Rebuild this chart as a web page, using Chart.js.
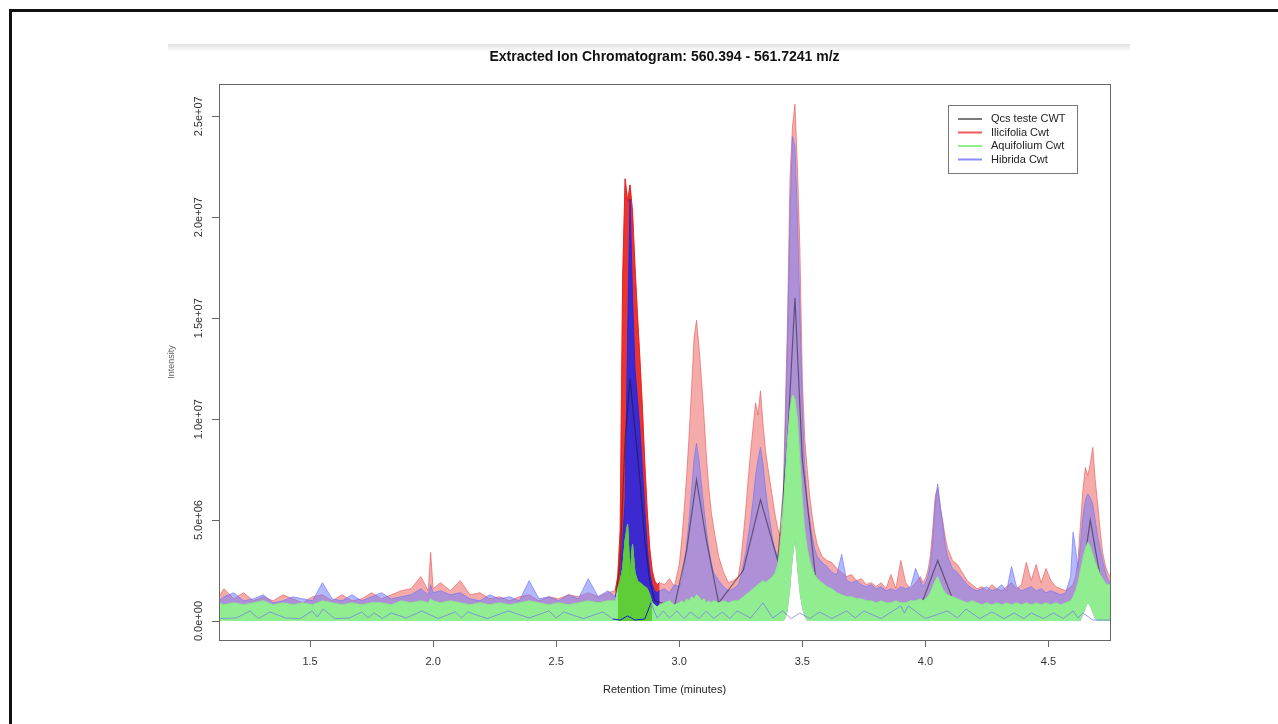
<!DOCTYPE html>
<html>
<head>
<meta charset="utf-8">
<title>Extracted Ion Chromatogram</title>
<script src="https://cdn.jsdelivr.net/npm/chart.js@4.4.1/dist/chart.umd.min.js"></script>
<style>
    body { margin: 0; background: #fff; width: 1278px; height: 724px; overflow: hidden; position: relative; }
    #frame { position: absolute; left: 9px; top: 9px; width: 1400px; height: 800px; border-left: 3px solid #111; border-top: 3px solid #111; }
    #shade { position: absolute; left: 168px; top: 44px; width: 962px; height: 8px; background: linear-gradient(#e2e2e2, #fff); }
    #wrap { position: absolute; left: 0; top: 0; width: 1278px; height: 724px; }
</style>
</head>
<body>
<div id="frame"></div>
<div id="shade"></div>
<div id="wrap"><canvas id="eic-chart" width="1278" height="724"></canvas></div>
<script>
// retention time grid (minutes), shared by the envelope series
const retentionTime = [
    1.13, 1.15, 1.19, 1.23, 1.27, 1.31, 1.35, 1.39, 1.43, 1.47, 1.51, 1.55, 1.59, 1.63, 1.67, 1.71, 1.75, 1.79, 1.83, 1.87,
    1.91, 1.95, 1.98, 1.99, 2.00, 2.03, 2.07, 2.11, 2.15, 2.19, 2.23, 2.27, 2.31, 2.35, 2.39, 2.43, 2.47, 2.51, 2.55, 2.59,
    2.63, 2.67, 2.71,
    2.74, 2.75, 2.76, 2.77, 2.78, 2.79, 2.80, 2.81, 2.82, 2.83, 2.84, 2.85, 2.86, 2.87, 2.88, 2.89, 2.90, 2.91, 2.92,
    2.94, 2.96, 2.98, 3.00,
    3.01, 3.02, 3.03, 3.04, 3.05, 3.06, 3.07, 3.08, 3.09, 3.10, 3.11, 3.12, 3.13, 3.14,
    3.16, 3.18, 3.20, 3.22,
    3.24, 3.25, 3.26, 3.27, 3.28, 3.29, 3.30, 3.31, 3.32, 3.33, 3.34, 3.35, 3.36, 3.37, 3.38, 3.39, 3.40,
    3.41, 3.42, 3.43, 3.44, 3.45, 3.46, 3.47, 3.48, 3.49, 3.50, 3.51, 3.52, 3.53, 3.54, 3.55, 3.56,
    3.58, 3.60, 3.62, 3.64, 3.66, 3.68, 3.70, 3.72, 3.74, 3.76, 3.78, 3.80, 3.82, 3.84, 3.86, 3.88, 3.90, 3.92, 3.94, 3.96, 3.98,
    3.99, 4.00, 4.01, 4.02, 4.03, 4.04, 4.05, 4.06, 4.07, 4.08, 4.09,
    4.11, 4.13, 4.15, 4.17, 4.19, 4.21, 4.23, 4.25, 4.27, 4.29, 4.31, 4.33, 4.35, 4.37, 4.39, 4.41, 4.43, 4.45, 4.47, 4.49,
    4.51, 4.53, 4.55, 4.57, 4.59,
    4.60, 4.61, 4.62, 4.63, 4.64, 4.65, 4.66, 4.67, 4.68, 4.69, 4.70, 4.71, 4.72, 4.73, 4.74, 4.75
];

// upper envelope of all Ilicifolia traces (intensity, x 1e6)
const ilicifoliaMax = [
    1.2, 1.6, 1.1, 1.4, 1.0, 1.2, 1.0, 1.3, 1.1, 0.9, 1.2, 1.3, 1.0, 1.3, 1.0, 1.1, 1.4, 1.1, 1.3, 1.5,
    1.6, 2.2, 1.5, 3.4, 1.6, 1.9, 1.5, 2.0, 1.3, 1.4, 1.1, 1.2, 1.0, 1.2, 1.3, 1.0, 1.2, 1.1, 1.3, 1.2,
    1.4, 1.2, 1.4,
    1.5, 2.2, 4.5, 17.0, 21.9, 20.8, 21.6, 20.3, 17.6, 15.2, 13.0, 10.6, 7.8, 5.4, 3.6, 2.5, 2.0, 1.8, 1.9,
    1.8, 2.1, 1.7, 2.8,
    4.0, 5.5, 7.2, 9.2, 11.5, 14.0, 14.9, 13.6, 12.0, 10.2, 8.2, 6.6, 5.4, 4.6,
    3.2, 2.4, 1.9, 2.0,
    2.2, 3.0, 4.2, 5.5, 7.0, 8.4, 9.6, 10.8, 10.2, 11.4, 9.8, 8.5, 7.6, 6.8, 6.0, 5.2, 4.6,
    4.2, 5.0, 10.0, 15.0, 22.0, 24.5, 25.6, 22.5, 18.5, 12.0, 9.0, 7.5, 6.2, 5.2, 4.4, 3.8,
    3.2, 3.0, 2.9, 2.6, 2.4, 2.2, 2.3, 2.0, 2.1, 1.8, 1.9, 1.7, 1.9, 1.6, 2.3, 1.6, 3.0, 1.9, 1.6, 1.9, 2.2,
    1.9, 2.1, 2.5, 3.2, 4.6, 6.2, 6.6, 5.6, 5.0, 4.2, 3.6,
    3.0, 2.8, 2.4, 2.0, 1.8, 1.6, 1.7, 1.5, 1.8, 1.6, 1.5, 1.7, 1.9, 1.6, 1.8, 2.9, 2.0, 2.8, 1.9, 2.6,
    2.0, 1.7, 1.6, 1.5, 1.7,
    1.8, 2.2, 3.0, 4.8, 6.5, 7.6, 7.2, 7.8, 8.6, 7.0, 5.8, 4.5, 3.4, 2.8, 2.4, 2.2
];

// upper envelope of all Hibrida traces
const hibridaMax = [
    1.0, 1.2, 1.4, 1.0, 1.1, 1.3, 0.9, 1.0, 1.2, 1.1, 1.0, 1.9, 1.1, 1.0, 1.3, 1.0, 1.2, 1.4, 1.1, 1.2,
    1.3, 1.6, 1.3, 1.8, 1.4, 1.5, 1.3, 1.4, 1.1, 1.0, 1.3, 1.1, 1.2, 1.0, 2.0, 1.1, 1.2, 1.0, 1.3, 1.1,
    2.1, 1.2, 1.5,
    1.2, 1.6, 2.0, 4.0, 6.0, 14.0, 20.9, 16.0, 12.5, 11.0, 9.5, 7.5, 5.5, 3.6, 2.4, 1.8, 1.5, 1.4, 1.5,
    1.6, 1.4, 1.8, 1.7,
    2.0, 2.8, 3.8, 5.0, 6.5, 8.0, 8.8, 8.0, 6.8, 5.6, 4.5, 3.6, 2.9, 2.4,
    2.0, 1.7, 1.5, 1.6,
    1.8, 2.2, 2.8, 3.4, 4.2, 5.0, 6.0, 7.2, 8.0, 8.6, 7.8, 6.6, 5.6, 4.8, 4.0, 3.5, 3.2,
    3.4, 4.5, 9.0, 14.0, 20.0, 24.0, 23.5, 20.0, 15.5, 10.5, 7.5, 6.0, 5.0, 4.2, 3.6, 3.2,
    2.9, 2.7, 2.4, 2.3, 3.3, 2.0, 1.9, 2.0, 1.8, 1.7, 1.8, 1.6, 1.7, 1.5, 1.6, 1.5, 1.7, 1.6, 1.7, 2.6, 2.0,
    1.7, 1.9, 2.2, 2.8, 4.0, 5.8, 6.8, 5.8, 4.8, 3.8, 3.2,
    2.6, 2.4, 2.1, 1.8, 1.6, 1.5, 1.6, 1.7, 1.5, 1.6, 1.8, 1.5, 2.7, 1.7, 1.5, 1.6, 1.7, 1.5, 1.6, 1.4,
    1.5, 1.4, 1.3, 1.4, 2.2,
    4.4, 3.6, 2.6, 3.8, 5.2, 6.0, 6.3, 6.1, 5.8, 5.0, 4.2, 3.6, 3.0, 2.5, 2.1, 1.9
];

// upper envelope of all Aquifolium traces
const aquifoliumMax = [
    0.9, 0.8, 0.9, 0.8, 0.9, 1.0, 0.8, 0.9, 0.8, 0.9, 0.8, 1.0, 0.9, 0.8, 0.9, 0.8, 0.9, 0.9, 0.8, 1.0,
    0.9, 1.0, 0.9, 1.1, 1.0, 0.9, 1.0, 0.9, 0.8, 0.9, 0.8, 0.9, 0.8, 0.9, 1.0, 0.9, 0.8, 0.9, 0.8, 0.9,
    1.0, 0.9, 1.0,
    1.0, 1.6, 2.0, 2.6, 4.0, 4.8, 2.2, 3.8, 2.4, 2.0, 1.9, 1.8, 1.7, 1.6, 1.3, 0.9, 0.8, 0.7, 0.8,
    0.9, 1.0, 0.8, 0.9,
    1.0, 0.9, 1.1, 1.0, 1.2, 1.1, 1.3, 1.2, 1.0, 1.1, 0.9, 1.0, 0.9, 1.0,
    0.9, 1.0, 0.9, 1.0,
    1.0, 1.1, 1.2, 1.3, 1.4, 1.5, 1.6, 1.7, 1.8, 1.9, 2.0, 1.9, 2.0, 2.1, 2.2, 2.4, 2.8,
    3.6, 5.0, 7.0, 9.0, 10.5, 11.2, 11.0, 10.0, 8.0, 6.0, 4.5, 3.6, 3.0, 2.6, 2.3, 2.1,
    1.9, 1.7, 1.6, 1.4, 1.3, 1.2, 1.2, 1.1, 1.1, 1.0, 1.0, 0.9, 1.0, 0.9, 0.9, 1.0, 0.9, 0.9, 1.0, 1.0, 1.1,
    1.0, 1.1, 1.2, 1.4, 1.7, 2.0, 2.2, 1.9, 1.6, 1.4, 1.3,
    1.2, 1.1, 1.0, 0.9, 1.0, 0.9, 0.8, 0.9, 0.8, 0.9, 0.8, 0.9, 0.8, 0.9, 0.8, 0.9, 0.8, 0.9, 0.8, 0.9,
    0.8, 0.9, 0.8, 0.9, 1.0,
    1.2, 1.5, 1.9, 2.5, 3.1, 3.6, 3.9, 3.7, 3.3, 2.9, 2.6, 2.3, 2.1, 1.9, 1.8, 1.8
];

// lowest value reached by any trace (white gaps under the big peaks)
const traceFloor = [
    0, 0, 0, 0, 0, 0, 0, 0, 0, 0, 0, 0, 0, 0, 0, 0, 0, 0, 0, 0,
    0, 0, 0, 0, 0, 0, 0, 0, 0, 0, 0, 0, 0, 0, 0, 0, 0, 0, 0, 0,
    0, 0, 0,
    0, 0, 0, 0, 0, 0, 0, 0, 0, 0, 0, 0, 0, 0, 0, 0, 0, 0, 0,
    0, 0, 0, 0,
    0, 0, 0, 0, 0, 0, 0, 0, 0, 0, 0, 0, 0, 0,
    0, 0, 0, 0,
    0, 0, 0, 0, 0, 0, 0, 0, 0, 0, 0, 0, 0, 0, 0, 0, 0,
    0, 0, 0.1, 0.5, 1.5, 3.0, 4.0, 2.5, 1.3, 0.6, 0.2, 0, 0, 0, 0, 0,
    0, 0, 0, 0, 0, 0, 0, 0, 0, 0, 0, 0, 0, 0, 0, 0, 0, 0, 0, 0, 0,
    0, 0, 0, 0, 0, 0, 0, 0, 0, 0, 0,
    0, 0, 0, 0, 0, 0, 0, 0, 0, 0, 0, 0, 0, 0, 0, 0, 0, 0, 0, 0,
    0, 0, 0, 0, 0,
    0, 0, 0, 0, 0.3, 0.6, 0.9, 0.7, 0.4, 0.1, 0, 0, 0, 0, 0, 0
];

// a representative Qcs trace
const qcsTime = [1.13, 1.6, 2.1, 2.6, 2.74, 2.76, 2.78, 2.80, 2.82, 2.84, 2.86, 2.88, 2.90, 2.98, 3.03, 3.07, 3.11, 3.16,
    3.26, 3.33, 3.40, 3.44, 3.47, 3.50, 3.56, 3.70, 3.98, 4.05, 4.12, 4.40, 4.62, 4.67, 4.72, 4.75];
const qcsIntensity = [0.6, 0.7, 0.6, 0.7, 0.8, 3.0, 9.0, 12.0, 9.5, 7.0, 4.0, 2.0, 1.0, 0.7, 3.5, 7.0, 4.0, 0.9,
    2.5, 6.0, 3.0, 9.0, 16.0, 8.0, 1.5, 0.8, 0.7, 3.0, 0.8, 0.6, 0.8, 5.0, 1.5, 1.0];

// the lowest Hibrida trace, running along the bottom
const hibridaLowTime = [1.13, 1.20, 1.256, 1.29, 1.337, 1.40, 1.46, 1.508, 1.53, 1.553, 1.60, 1.66, 1.71, 1.735, 1.76,
    1.795, 1.83, 1.89, 1.955, 2.02, 2.09, 2.115, 2.14, 2.22, 2.305, 2.39, 2.47, 2.50, 2.53, 2.61, 2.69, 2.73, 2.76,
    2.79, 2.82, 2.86, 2.885, 2.91, 2.935, 2.96, 2.99, 3.02, 3.045, 3.08, 3.11, 3.14, 3.175, 3.205, 3.235, 3.29, 3.34,
    3.38, 3.42, 3.455, 3.49, 3.53, 3.57, 3.62, 3.68, 3.715, 3.75, 3.82, 3.90, 3.915, 3.93, 4.00, 4.09, 4.13, 4.165,
    4.22, 4.27, 4.32, 4.36, 4.40, 4.43, 4.48, 4.52, 4.56, 4.60, 4.62, 4.64, 4.68, 4.75];
const hibridaLow = [0.12, 0.15, 0.5, 0.12, 0.45, 0.15, 0.12, 0.5, 0.2, 0.6, 0.12, 0.15, 0.45, 0.15, 0.4,
    0.12, 0.4, 0.15, 0.5, 0.12, 0.45, 0.15, 0.45, 0.12, 0.5, 0.15, 0.5, 0.15, 0.45, 0.12, 0.45, 0.1, 0.05,
    0.25, 0.05, 0.1, 0.9, 0.15, 0.5, 0.15, 0.5, 0.12, 0.45, 0.12, 0.5, 0.12, 0.45, 0.12, 0.5, 0.15, 0.9,
    0.15, 0.5, 0.12, 0.4, 0.12, 0.45, 0.12, 0.5, 0.15, 0.5, 0.12, 0.75, 0.4, 0.75, 0.12, 0.5, 0.15, 0.6,
    0.12, 0.45, 0.12, 0.4, 0.12, 0.4, 0.12, 0.4, 0.12, 0.5, 0.15, 0.4, 0.05, 0.05];

const xTicks = [1.5, 2.0, 2.5, 3.0, 3.5, 4.0, 4.5];
const yTicks = [0, 5e6, 1e7, 1.5e7, 2e7, 2.5e7];

const legendLabels = ["Qcs teste CWT", "Ilicifolia Cwt", "Aquifolium Cwt", "Hibrida Cwt"];
const legendColors = ["#7a7a7a", "rgb(238,90,90)", "rgb(144,238,144)", "rgb(140,140,250)"];

// first peak is where the traces pile up and colours look saturated
const PEAK1_START = 2.74, PEAK1_END = 2.92;
const FLOOR_INDEX = 3;

function toPoints(times, values) {
    return times.map((t, i) => ({x: t, y: values[i] * 1e6}));
}

function peakPoints(times, values, lo, hi) {
    return toPoints(times, values).filter(p => p.x >= lo && p.x <= hi);
}

function sci(v) {
    return v.toExponential(1).replace(/e([+-])(\d)$/, (m, s, d) => "e" + s + "0" + d);
}

const plotBox = {
    id: "plotBox",
    afterDatasetsDraw(chart) {
        const a = chart.chartArea;
        const ctx = chart.ctx;
        ctx.save();
        ctx.strokeStyle = "#666";
        ctx.lineWidth = 1;
        ctx.strokeRect(Math.round(a.left) + 0.5, Math.round(a.top) + 0.5, Math.round(a.right - a.left), Math.round(a.bottom - a.top));
        ctx.restore();
    }
};

const rLegend = {
    id: "rLegend",
    afterDraw(chart) {
        const ctx = chart.ctx;
        const left = 948, top = 105, w = 129, h = 68;
        ctx.save();
        ctx.fillStyle = "#fff";
        ctx.fillRect(left, top, w, h);
        ctx.strokeStyle = "#777";
        ctx.lineWidth = 1;
        ctx.strokeRect(left + 0.5, top + 0.5, w, h);
        ctx.font = "11px 'Liberation Sans', Arial, sans-serif";
        ctx.textBaseline = "middle";
        legendLabels.forEach((label, i) => {
            const y = top + 14 + i * 13.5;
            ctx.strokeStyle = legendColors[i];
            ctx.lineWidth = 2;
            ctx.beginPath();
            ctx.moveTo(left + 10, y);
            ctx.lineTo(left + 34, y);
            ctx.stroke();
            ctx.fillStyle = "#222";
            ctx.fillText(label, left + 43, y);
        });
        ctx.restore();
    }
};

const ctx = document.getElementById("eic-chart").getContext("2d");
const chart = new Chart(ctx, {
    type: "line",
    data: {
        datasets: [{
            label: "Hibrida Cwt (low trace)",
            data: toPoints(hibridaLowTime, hibridaLow),
            borderColor: "rgba(115,115,240,0.7)",
            borderWidth: 1,
            fill: false,
            order: 1,
            segment: {
                borderColor: c => (c.p0.parsed.x >= 2.72 && c.p1.parsed.x <= 2.9 ? "#1a1ad0" : undefined),
            },
        }, {
            label: "Aquifolium Cwt (peak 1)",
            data: peakPoints(retentionTime, aquifoliumMax, 2.75, 2.89),
            borderColor: "rgb(90,200,50)",
            backgroundColor: "rgb(95,205,55)",
            borderWidth: 1,
            fill: "origin",
            order: 2,
        }, {
            label: "Aquifolium Cwt",
            data: toPoints(retentionTime, aquifoliumMax),
            borderColor: "rgb(138,232,138)",
            backgroundColor: "rgb(144,238,144)",
            borderWidth: 1,
            fill: "+1",
            order: 3,
        }, {
            label: "Trace floor",
            data: toPoints(retentionTime, traceFloor),
            borderWidth: 0,
            borderColor: "rgba(0,0,0,0)",
            fill: false,
            order: 3.5,
        }, {
            label: "Qcs teste CWT",
            data: toPoints(qcsTime, qcsIntensity),
            borderColor: "rgba(20,20,20,0.5)",
            borderWidth: 1.2,
            fill: false,
            order: 4,
        }, {
            label: "Hibrida Cwt (peak 1)",
            data: peakPoints(retentionTime, hibridaMax, PEAK1_START, PEAK1_END),
            borderColor: "rgba(30,40,235,0.9)",
            backgroundColor: "rgba(30,40,235,0.85)",
            borderWidth: 1,
            fill: "origin",
            order: 5,
        }, {
            label: "Ilicifolia Cwt (peak 1)",
            data: peakPoints(retentionTime, ilicifoliaMax, PEAK1_START, PEAK1_END),
            borderColor: "rgba(235,30,30,0.9)",
            backgroundColor: "rgba(235,35,30,0.88)",
            borderWidth: 1,
            fill: "origin",
            order: 6,
        }, {
            label: "Hibrida Cwt",
            data: toPoints(retentionTime, hibridaMax),
            borderColor: "rgba(110,115,250,0.65)",
            backgroundColor: "rgba(110,120,255,0.52)",
            borderWidth: 1,
            fill: FLOOR_INDEX,
            order: 7,
        }, {
            label: "Ilicifolia Cwt",
            data: toPoints(retentionTime, ilicifoliaMax),
            borderColor: "rgba(235,90,90,0.65)",
            backgroundColor: "rgba(240,110,110,0.58)",
            borderWidth: 1,
            fill: FLOOR_INDEX,
            order: 8,
        }],
    },
    options: {
        responsive: false,
        animation: false,
        devicePixelRatio: 1,
        elements: {point: {radius: 0}, line: {tension: 0}},
        layout: {padding: {left: 160, right: 168, top: 0, bottom: 0}},
        plugins: {
            legend: {display: false},
            tooltip: {enabled: false},
            title: {
                display: true,
                fullSize: false,
                text: "Extracted Ion Chromatogram: 560.394 - 561.7241 m/z",
                color: "#111",
                font: {family: "'Liberation Sans', Arial, sans-serif", size: 14, weight: "bold"},
                padding: {top: 49, bottom: 18.2},
            },
        },
        scales: {
            x: {
                type: "linear",
                min: 1.13,
                max: 4.75,
                afterFit: scale => { scale.height = 84; },
                afterBuildTicks: scale => { scale.ticks = xTicks.map(v => ({value: v})); },
                grid: {drawOnChartArea: false, drawTicks: true, tickLength: 7, color: "#666"},
                border: {display: false},
                ticks: {
                    padding: 8, autoSkip: false, maxRotation: 0, color: "#333",
                    font: {family: "'Liberation Sans', Arial, sans-serif", size: 11},
                    callback: v => v.toFixed(1),
                },
                title: {
                    display: true, text: "Retention Time (minutes)", color: "#222",
                    font: {family: "'Liberation Sans', Arial, sans-serif", size: 11},
                    padding: {top: 0, bottom: 27},
                },
            },
            y: {
                type: "linear",
                min: -0.94e6,
                max: 26.6e6,
                afterFit: scale => { scale.width = 59; },
                afterBuildTicks: scale => { scale.ticks = yTicks.map(v => ({value: v})); },
                grid: {drawOnChartArea: false, drawTicks: true, tickLength: 7, color: "#666"},
                border: {display: false},
                ticks: {
                    padding: -7, autoSkip: false, minRotation: 90, maxRotation: 90, crossAlign: "center", color: "#333",
                    font: {family: "'Liberation Sans', Arial, sans-serif", size: 11},
                    callback: v => sci(v),
                },
                title: {
                    display: true, text: "Intensity", color: "#666",
                    font: {family: "'Liberation Sans', Arial, sans-serif", size: 9},
                    padding: {top: 6, bottom: 0},
                },
            },
        },
    },
    plugins: [plotBox, rLegend],
});
</script>
</body>
</html>
